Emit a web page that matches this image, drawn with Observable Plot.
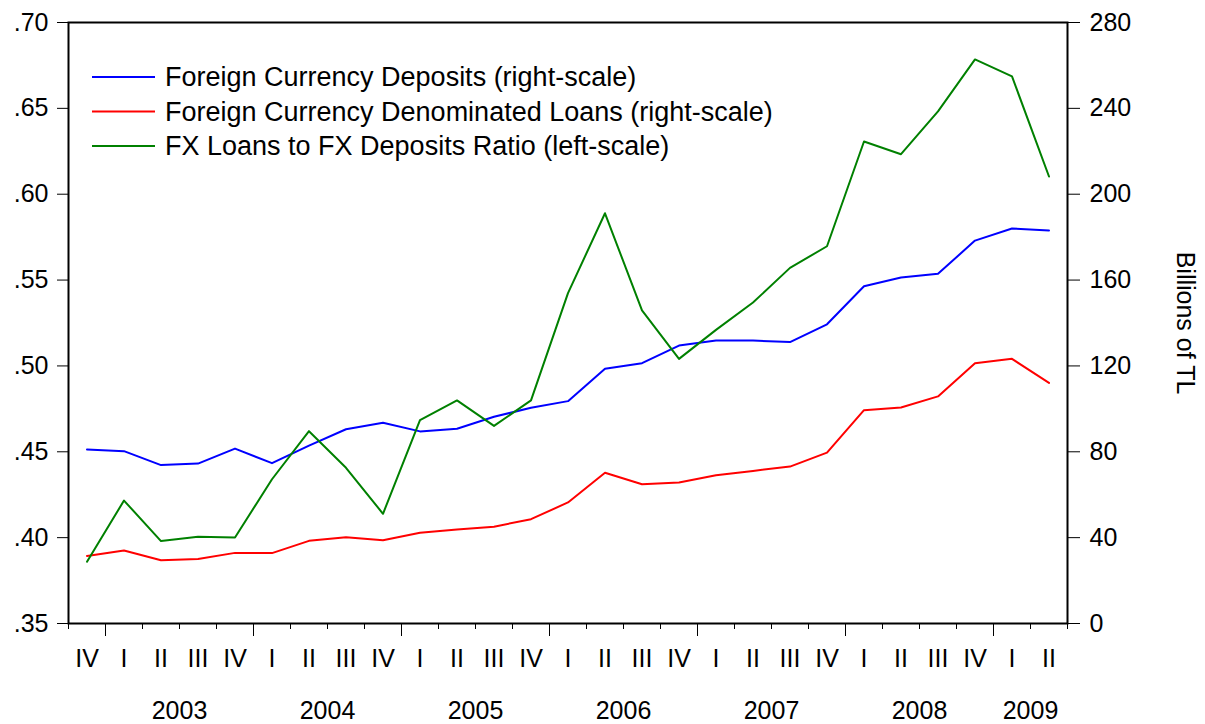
<!DOCTYPE html>
<html>
<head>
<meta charset="utf-8">
<script src="https://cdn.jsdelivr.net/npm/d3@7"></script>
<script src="https://cdn.jsdelivr.net/npm/@observablehq/plot@0.6"></script>
<style>
  html, body { margin: 0; padding: 0; background: #fff; }
  #wrap { position: relative; width: 1205px; height: 724px; font-family: "Liberation Sans", Arial, sans-serif; }
  #legend { position: absolute; left: 0; top: 0; pointer-events: none; }
</style>
</head>
<body>
<div id="wrap"></div>
<script>
// ---- Data ----
const quarterLabels = ["IV","I","II","III","IV","I","II","III","IV","I","II","III","IV","I","II","III","IV","I","II","III","IV","I","II","III","IV","I","II"];
const quarterYears  = [2002,2003,2003,2003,2003,2004,2004,2004,2004,2005,2005,2005,2005,2006,2006,2006,2006,2007,2007,2007,2007,2008,2008,2008,2008,2009,2009];
const yearLabels = [2003, 2004, 2005, 2006, 2007, 2008, 2009];

// Billions of TL (right scale)
const fxDeposits = [81.1, 80.3, 73.8, 74.5, 81.5, 74.7, 82.9, 90.5, 93.5, 89.5, 90.7, 96.3, 100.5, 103.6, 118.7, 121.3, 129.5, 131.8, 131.8, 131.1, 139.4, 157.1, 161.2, 162.9, 178.4, 184.0, 183.1];
const fxLoans    = [31.5, 34.0, 29.5, 30.0, 32.9, 32.8, 38.5, 40.2, 38.8, 42.3, 43.8, 45.1, 48.6, 56.4, 70.2, 64.9, 65.7, 69.1, 71.1, 73.1, 79.6, 99.4, 100.6, 105.8, 121.3, 123.3, 112.1];
// Ratio (left scale)
const fxRatio    = [0.386, 0.4216, 0.398, 0.4005, 0.4001, 0.434, 0.462, 0.4407, 0.4139, 0.4684, 0.4799, 0.4651, 0.4799, 0.5424, 0.5889, 0.5323, 0.5041, 0.521, 0.5369, 0.5571, 0.5697, 0.6307, 0.6233, 0.6482, 0.6785, 0.6686, 0.6103];

const leftTicks  = [0.35, 0.40, 0.45, 0.50, 0.55, 0.60, 0.65, 0.70];
const rightTicks = [0, 40, 80, 120, 160, 200, 240, 280];

const seriesNames = [
  "Foreign Currency Deposits (right-scale)",
  "Foreign Currency Denominated Loans (right-scale)",
  "FX Loans to FX Deposits Ratio (left-scale)"
];
const seriesColors = ["#0000ff", "#ff0000", "#008000"];

// ---- Build ----
const leftMin = 0.35, leftMax = 0.70, rightMin = 0, rightMax = 280;
const toLeft = v => leftMin + (v - rightMin) * (leftMax - leftMin) / (rightMax - rightMin);
const toRight = y => rightMin + (y - leftMin) * (rightMax - rightMin) / (leftMax - leftMin);

const n = quarterLabels.length;
const idx = d3.range(n);
const table = idx.map(i => ({i, dep: fxDeposits[i], loan: fxLoans[i], ratio: fxRatio[i]}));

const boundaries = d3.range(n + 1).map(k => k - 0.5);
const yearBoundaries = idx.filter(i => i > 0 && quarterYears[i] !== quarterYears[i - 1]).map(i => i - 0.5);
const yearCenters = yearLabels.map(y => d3.mean(idx.filter(i => quarterYears[i] === y)));

const FONT = 25;
const LEGEND_FONT = 27;

const chart = Plot.plot({
  width: 1205,
  height: 724,
  marginLeft: 68,
  marginRight: 138,
  marginTop: 22,
  marginBottom: 101,
  style: {fontFamily: '"Liberation Sans", Arial, sans-serif', color: "#000", background: "#fff", overflow: "visible"},
  x: {type: "linear", domain: [-0.5, n - 0.5]},
  y: {domain: [leftMin, leftMax]},
  marks: [
    Plot.axisY({anchor: "left", ticks: leftTicks, tickSize: 11, tickPadding: 9, fontSize: FONT,
      tickFormat: d => d.toFixed(2).replace(/^0/, ""), label: null}),
    Plot.axisY({anchor: "right", ticks: rightTicks.map(toLeft), tickSize: 12, tickPadding: 10, fontSize: FONT,
      tickFormat: d => String(Math.round(toRight(d))), label: null}),
    Plot.axisX({ticks: boundaries, tickSize: 6, tickFormat: () => "", label: null}),
    Plot.axisX({ticks: yearBoundaries, tickSize: 13, tickFormat: () => "", label: null}),
    Plot.axisX({ticks: idx, tickSize: 0, tickPadding: 26, fontSize: FONT,
      tickFormat: i => quarterLabels[i], label: null}),
    Plot.axisX({ticks: yearCenters, tickSize: 0, tickPadding: 78, fontSize: FONT,
      tickFormat: c => String(yearLabels[yearCenters.indexOf(c)]), label: null}),
    Plot.text(["Billions of TL"], {frameAnchor: "right", dx: 117, rotate: 90, fontSize: FONT, fill: "#000", textAnchor: "middle"}),
    Plot.line(table, {x: "i", y: d => toLeft(d.dep), stroke: seriesColors[0], strokeWidth: 2}),
    Plot.line(table, {x: "i", y: d => toLeft(d.loan), stroke: seriesColors[1], strokeWidth: 2}),
    Plot.line(table, {x: "i", y: "ratio", stroke: seriesColors[2], strokeWidth: 2}),
    Plot.frame({stroke: "#000", strokeWidth: 2})
  ]
});

const wrap = document.getElementById("wrap");
wrap.appendChild(chart);

// Legend overlay inside the plot area
const ns = "http://www.w3.org/2000/svg";
const leg = document.createElementNS(ns, "svg");
leg.setAttribute("id", "legend");
leg.setAttribute("width", 1205);
leg.setAttribute("height", 724);
seriesNames.forEach((name, k) => {
  const y = 77 + k * 34.5;
  const line = document.createElementNS(ns, "line");
  line.setAttribute("x1", 92); line.setAttribute("x2", 155);
  line.setAttribute("y1", y); line.setAttribute("y2", y);
  line.setAttribute("stroke", seriesColors[k]); line.setAttribute("stroke-width", 2);
  leg.appendChild(line);
  const t = document.createElementNS(ns, "text");
  t.setAttribute("x", 165); t.setAttribute("y", y);
  t.setAttribute("dy", "0.35em");
  t.setAttribute("font-size", LEGEND_FONT);
  t.setAttribute("font-family", '"Liberation Sans", Arial, sans-serif');
  t.setAttribute("fill", "#000");
  t.textContent = name;
  leg.appendChild(t);
});
wrap.appendChild(leg);
</script>
</body>
</html>
